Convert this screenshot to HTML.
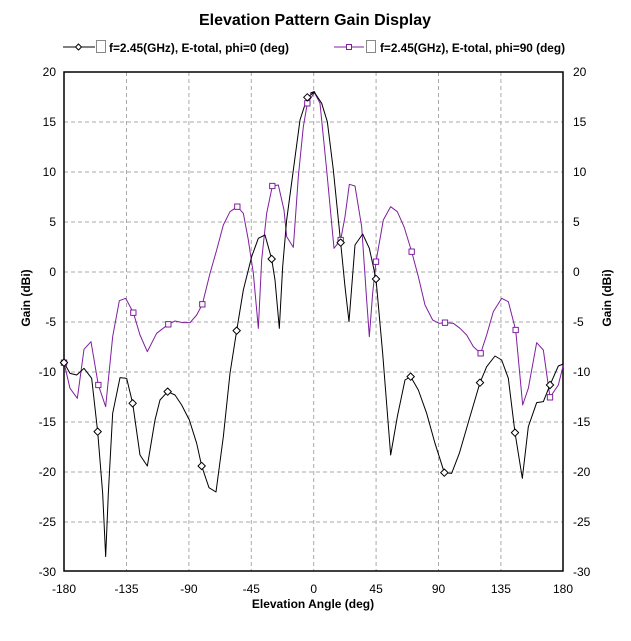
<!DOCTYPE html>
<html><head><meta charset="utf-8"><style>
html,body{margin:0;padding:0;background:#fff;}
svg{display:block;font-family:"Liberation Sans",Arial,sans-serif;}
</style></head><body>
<svg width="631" height="641" viewBox="0 0 631 641" xmlns="http://www.w3.org/2000/svg">
<rect width="631" height="641" fill="#fff"/>
<text x="315" y="25" font-size="16" font-weight="bold" text-anchor="middle">Elevation Pattern Gain Display</text>
<!-- legend -->
<line x1="63" y1="47" x2="95" y2="47" stroke="#000"/>
<path d="M78.5,44 L81.5,47 L78.5,50 L75.5,47Z" fill="#fff" stroke="#000"/>
<rect x="96.5" y="40.5" width="9" height="12" fill="#fff" stroke="#888"/>
<text x="109" y="52" font-size="12" font-weight="bold" textLength="180" lengthAdjust="spacingAndGlyphs">f=2.45(GHz), E-total, phi=0 (deg)</text>
<line x1="334" y1="47" x2="364" y2="47" stroke="#7f1f9f"/>
<rect x="346.5" y="44.5" width="5" height="5" fill="#fff" stroke="#7f1f9f"/>
<rect x="366.5" y="40.5" width="9" height="12" fill="#fff" stroke="#888"/>
<text x="380" y="52" font-size="12" font-weight="bold" textLength="185" lengthAdjust="spacingAndGlyphs">f=2.45(GHz), E-total, phi=90 (deg)</text>
<!-- grid -->
<g stroke="#aaa" stroke-dasharray="4,3" stroke-width="1">
<line x1="126.5" y1="72" x2="126.5" y2="571"/><line x1="188.9" y1="72" x2="188.9" y2="571"/>
<line x1="251.3" y1="72" x2="251.3" y2="571"/><line x1="313.7" y1="72" x2="313.7" y2="571"/>
<line x1="376.1" y1="72" x2="376.1" y2="571"/><line x1="438.5" y1="72" x2="438.5" y2="571"/>
<line x1="500.9" y1="72" x2="500.9" y2="571"/>
<line x1="64" y1="122" x2="563" y2="122"/><line x1="64" y1="172" x2="563" y2="172"/>
<line x1="64" y1="222" x2="563" y2="222"/><line x1="64" y1="272" x2="563" y2="272"/>
<line x1="64" y1="322" x2="563" y2="322"/><line x1="64" y1="372" x2="563" y2="372"/>
<line x1="64" y1="422" x2="563" y2="422"/><line x1="64" y1="472" x2="563" y2="472"/>
<line x1="64" y1="522" x2="563" y2="522"/>
</g>
<rect x="64" y="72" width="499" height="499" fill="none" stroke="#000" stroke-width="1.5"/>
<!-- y labels -->
<g font-size="12" text-anchor="end">
<text x="56" y="76">20</text><text x="56" y="126">15</text><text x="56" y="176">10</text><text x="56" y="226">5</text>
<text x="56" y="276">0</text><text x="56" y="326">-5</text><text x="56" y="376">-10</text><text x="56" y="426">-15</text>
<text x="56" y="476">-20</text><text x="56" y="526">-25</text><text x="56" y="576">-30</text>
</g>
<g font-size="12" text-anchor="start">
<text x="573" y="76">20</text><text x="573" y="126">15</text><text x="573" y="176">10</text><text x="573" y="226">5</text>
<text x="573" y="276">0</text><text x="573" y="326">-5</text><text x="573" y="376">-10</text><text x="573" y="426">-15</text>
<text x="573" y="476">-20</text><text x="573" y="526">-25</text><text x="573" y="576">-30</text>
</g>
<g font-size="12" text-anchor="middle">
<text x="64" y="593">-180</text><text x="126.5" y="593">-135</text><text x="188.9" y="593">-90</text><text x="251.3" y="593">-45</text>
<text x="313.7" y="593">0</text><text x="376.1" y="593">45</text><text x="438.5" y="593">90</text><text x="500.9" y="593">135</text><text x="563" y="593">180</text>
</g>
<text x="313" y="608" font-size="12" font-weight="bold" text-anchor="middle">Elevation Angle (deg)</text>
<text transform="translate(30,298) rotate(-90)" font-size="12" font-weight="bold" text-anchor="middle">Gain (dBi)</text>
<text transform="translate(611,298) rotate(-90)" font-size="12" font-weight="bold" text-anchor="middle">Gain (dBi)</text>
<!-- curves -->
<g transform="translate(60,60) scale(0.33333)" fill="none" stroke-linejoin="round">
<polyline stroke="#7f1f9f" stroke-width="1" vector-effect="non-scaling-stroke" points="12,908 30,985 52,1015 72,868 93,845 115,975 137,1040 158,830 178,722 197,715 220,758 240,825 262,875 290,820 325,793 345,783 368,788 390,788 410,765 427,733 450,640 470,570 490,495 510,455 532,440 550,460 565,540 580,640 595,805 605,600 620,460 637,378 655,375 672,450 680,530 700,562 715,350 730,200 742,130 765,95"/>
<polyline transform="translate(750,0)" stroke="#7f1f9f" stroke-width="1" vector-effect="non-scaling-stroke" points="0,100 12,95 30,130 50,330 72,565 92,540 105,470 118,373 135,378 155,500 170,720 178,830 188,700 198,605 220,480 242,440 262,455 282,500 305,575 325,650 345,735 368,780 387,790 405,788 430,790 450,805 470,825 490,860 512,880 530,825 550,755 575,715 595,725 617,810 638,1035 655,985 680,848 700,870 720,1012 745,975 760,915"/>
<polyline stroke="#000" stroke-width="1" vector-effect="non-scaling-stroke" points="12,908 30,940 50,945 72,925 95,955 113,1115 128,1300 137,1490 145,1300 158,1060 180,953 200,955 218,1030 240,1185 262,1218 285,1080 300,1020 323,995 345,1005 365,1035 388,1080 410,1150 425,1218 447,1283 468,1296 490,1130 510,940 530,812 550,690 575,590 595,535 615,525 635,597 645,660 658,805 668,620 680,480 700,330 720,180 742,112 765,95"/>
<polyline transform="translate(750,0)" stroke="#000" stroke-width="1" vector-effect="non-scaling-stroke" points="0,100 12,95 35,130 52,185 70,330 92,548 105,680 117,785 135,555 158,522 178,565 198,657 218,880 242,1185 262,1070 285,960 302,950 325,990 350,1060 375,1150 403,1238 425,1240 448,1180 480,1070 510,968 530,920 555,888 575,900 595,955 615,1118 637,1255 655,1100 680,1028 700,1025 720,975 745,918 760,912"/>
<g stroke="#7f1f9f" stroke-width="1" fill="#fff">
<rect x="4" y="900" width="16" height="16" vector-effect="non-scaling-stroke"/>
<rect x="107" y="967" width="16" height="16" vector-effect="non-scaling-stroke"/>
<rect x="212" y="750" width="16" height="16" vector-effect="non-scaling-stroke"/>
<rect x="317" y="785" width="16" height="16" vector-effect="non-scaling-stroke"/>
<rect x="419" y="725" width="16" height="16" vector-effect="non-scaling-stroke"/>
<rect x="524" y="432" width="16" height="16" vector-effect="non-scaling-stroke"/>
<rect x="629" y="370" width="16" height="16" vector-effect="non-scaling-stroke"/>
<rect x="734" y="122" width="16" height="16" vector-effect="non-scaling-stroke"/>
<rect x="834" y="532" width="16" height="16" vector-effect="non-scaling-stroke"/>
<rect x="940" y="597" width="16" height="16" vector-effect="non-scaling-stroke"/>
<rect x="1047" y="567" width="16" height="16" vector-effect="non-scaling-stroke"/>
<rect x="1147" y="780" width="16" height="16" vector-effect="non-scaling-stroke"/>
<rect x="1254" y="872" width="16" height="16" vector-effect="non-scaling-stroke"/>
<rect x="1359" y="802" width="16" height="16" vector-effect="non-scaling-stroke"/>
<rect x="1462" y="1004" width="16" height="16" vector-effect="non-scaling-stroke"/>
</g>
<g stroke="#000" fill="#fff">
<path vector-effect="non-scaling-stroke" d="M12,897 l11,11 l-11,11 l-11,-11z M113,1104 l11,11 l-11,11 l-11,-11z M218,1019 l11,11 l-11,11 l-11,-11z M323,984 l11,11 l-11,11 l-11,-11z M425,1207 l11,11 l-11,11 l-11,-11z M530,801 l11,11 l-11,11 l-11,-11z M635,586 l11,11 l-11,11 l-11,-11z M742,101 l11,11 l-11,11 l-11,-11z M842,537 l11,11 l-11,11 l-11,-11z M948,646 l11,11 l-11,11 l-11,-11z M1052,939 l11,11 l-11,11 l-11,-11z M1153,1227 l11,11 l-11,11 l-11,-11z M1260,957 l11,11 l-11,11 l-11,-11z M1365,1107 l11,11 l-11,11 l-11,-11z M1470,964 l11,11 l-11,11 l-11,-11z"/>
</g>
</g>
</svg>
</body></html>
